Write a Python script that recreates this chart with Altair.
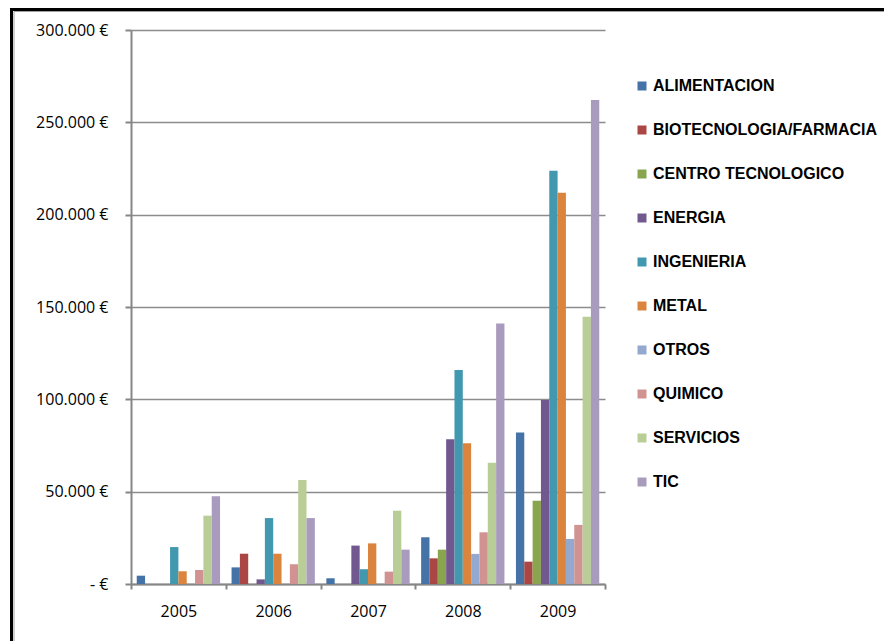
import altair as alt
import pandas as pd

# Annual amounts (EUR) per sector
years = ["2005", "2006", "2007", "2008", "2009"]
sectors = [
    "ALIMENTACION",
    "BIOTECNOLOGIA/FARMACIA",
    "CENTRO TECNOLOGICO",
    "ENERGIA",
    "INGENIERIA",
    "METAL",
    "OTROS",
    "QUIMICO",
    "SERVICIOS",
    "TIC",
]
alimentacion = [4500, 9000, 3100, 25300, 82100]
biotecnologia = [0, 16400, 0, 13900, 12100]
centro_tecnologico = [0, 0, 0, 18600, 45100]
energia = [0, 2500, 20800, 78400, 99600]
ingenieria = [20000, 35700, 8000, 115900, 223800]
metal = [6900, 16400, 22000, 76200, 211900]
otros = [0, 0, 0, 16300, 24400]
quimico = [7600, 10700, 6700, 28000, 32000]
servicios = [37000, 56300, 39700, 65700, 144700]
tic = [47500, 35700, 18600, 141000, 262100]

series = [alimentacion, biotecnologia, centro_tecnologico, energia, ingenieria,
          metal, otros, quimico, servicios, tic]
palette = ["#4572A7", "#AA4643", "#89A54E", "#71588F", "#4198AF",
           "#DB843D", "#93A9CF", "#D19392", "#B9CD96", "#A99BBD"]
y_ticks = [0, 50000, 100000, 150000, 200000, 250000, 300000]

rows = [
    {"year": y, "sector": s, "amount": v}
    for s, vals in zip(sectors, series)
    for y, v in zip(years, vals)
]
df = pd.DataFrame(rows)

W, H = 474, 554
PAD = {"left": 131, "top": 30, "right": 279, "bottom": 57}

bars = alt.Chart(df).mark_bar().encode(
    x=alt.X(
        "year:N",
        sort=years,
        scale=alt.Scale(paddingInner=0, paddingOuter=0),
        axis=alt.Axis(
            title=None, labelAngle=0, tickBand="extent", tickSize=5,
            labelPadding=14, grid=False,
        ),
    ),
    xOffset=alt.XOffset(
        "sector:N", sort=sectors,
        scale=alt.Scale(paddingInner=0, paddingOuter=0.69),
    ),
    y=alt.Y(
        "amount:Q",
        scale=alt.Scale(domain=[0, 300000], nice=False),
        axis=alt.Axis(
            title=None, values=y_ticks, tickSize=6, labelPadding=17,
            labelExpr="datum.value == 0 ? '- €' : replace(format(datum.value, ','), ',', '.') + ' €'",
        ),
    ),
    color=alt.Color(
        "sector:N",
        sort=sectors,
        scale=alt.Scale(domain=sectors, range=palette),
        legend=alt.Legend(
            title=None, orient="none", legendX=503, legendY=48,
            symbolType="square", symbolSize=81, symbolStrokeWidth=0,
            labelFont="Liberation Sans", labelFontWeight="bold",
            labelFontSize=16, labelColor="#000000", labelLimit=400,
            labelOffset=3, rowPadding=28, padding=0,
        ),
    ),
)

# Outer frame around the whole chart object
one = pd.DataFrame({"k": [0]})
frame_left = alt.Chart(one).mark_rule(color="#000000", strokeWidth=3).encode(
    x=alt.value(-119.5), y=alt.value(-22), y2=alt.value(H + PAD["bottom"] + 5)
)
frame_top = alt.Chart(one).mark_rule(color="#000000", strokeWidth=3).encode(
    x=alt.value(-121), x2=alt.value(W + PAD["right"] + 5), y=alt.value(-20.5)
)
inner_left = alt.Chart(one).mark_rule(color="#a0a0a0", strokeWidth=1).encode(
    x=alt.value(-117), y=alt.value(-18.5), y2=alt.value(H + PAD["bottom"] + 5)
)
inner_top = alt.Chart(one).mark_rule(color="#a0a0a0", strokeWidth=1).encode(
    x=alt.value(-117), x2=alt.value(W + PAD["right"] + 5), y=alt.value(-18.5)
)

chart = alt.layer(bars, inner_left, inner_top, frame_left, frame_top).properties(
    width=W,
    height=H,
    padding=PAD,
    autosize=alt.AutoSizeParams(type="none"),
    background="#ffffff",
).configure_view(
    stroke=None
).configure_axis(
    labelFont="Open Sans",
    labelFontSize=16,
    labelColor="#000000",
    domainColor="#868686",
    domainWidth=2,
    tickColor="#868686",
    tickWidth=2,
    gridColor="#8c8c8c",
    gridWidth=1.3,
)

chart.save("out.html", embed_options={"renderer": "svg", "actions": False})
